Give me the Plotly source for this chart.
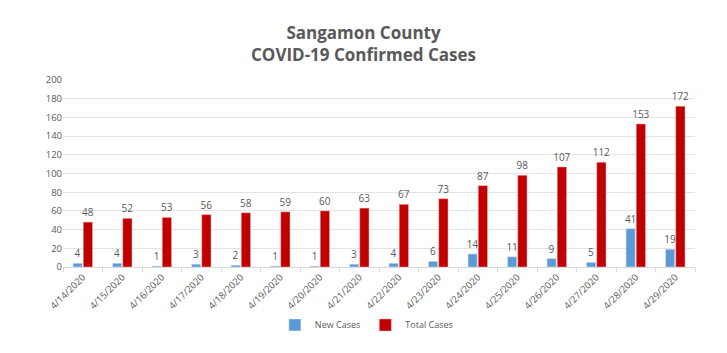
import plotly.graph_objects as go

dates = ["4/14/2020", "4/15/2020", "4/16/2020", "4/17/2020", "4/18/2020", "4/19/2020",
         "4/20/2020", "4/21/2020", "4/22/2020", "4/23/2020", "4/24/2020", "4/25/2020",
         "4/26/2020", "4/27/2020", "4/28/2020", "4/29/2020"]
new_cases = [4, 4, 1, 3, 2, 1, 1, 3, 4, 6, 14, 11, 9, 5, 41, 19]
total_cases = [48, 52, 53, 56, 58, 59, 60, 63, 67, 73, 87, 98, 107, 112, 153, 172]

font_fam = "Open Sans, Liberation Sans, sans-serif"
gray = "#595959"

fig = go.Figure()
fig.add_trace(go.Bar(x=dates, y=new_cases, name="New Cases", marker_color="#5B9BD5",
                     text=new_cases, textposition="outside", constraintext="none",
                     textfont=dict(color=gray, size=10, family=font_fam), cliponaxis=False))
fig.add_trace(go.Bar(x=dates, y=total_cases, name="Total Cases", marker_color="#C00000",
                     marker_line=dict(color="#F4B6B6", width=0.5),
                     text=total_cases, textposition="outside", constraintext="none",
                     textfont=dict(color=gray, size=10, family=font_fam), cliponaxis=False))

fig.update_layout(
    width=727, height=353,
    margin=dict(l=63, r=32, t=80, b=86),
    paper_bgcolor="white", plot_bgcolor="white",
    barmode="group", bargap=0.48, bargroupgap=0.1,
    title=dict(text="<b>Sangamon County<br>COVID-19 Confirmed Cases</b>",
               x=0.5, xanchor="center", y=0.89, yanchor="middle",
               font=dict(family=font_fam, size=17, color=gray)),
    legend=dict(orientation="h", x=0.48, xanchor="center", y=-0.31, yanchor="middle",
                font=dict(family=font_fam, size=9, color=gray), itemwidth=30,
                tracegroupgap=0),
    xaxis=dict(tickangle=-45, tickfont=dict(family=font_fam, size=9.5, color=gray),
               showline=True, linecolor="#D9D9D9", ticks="outside", tickcolor="#D9D9D9",
               ticklen=4, showgrid=False, tickson="boundaries"),
    yaxis=dict(range=[0, 200], dtick=20, tickfont=dict(family=font_fam, size=9.5, color=gray),
               gridcolor="#E3E3E3", zeroline=False, showline=False),
)

fig.write_html("out.html")
